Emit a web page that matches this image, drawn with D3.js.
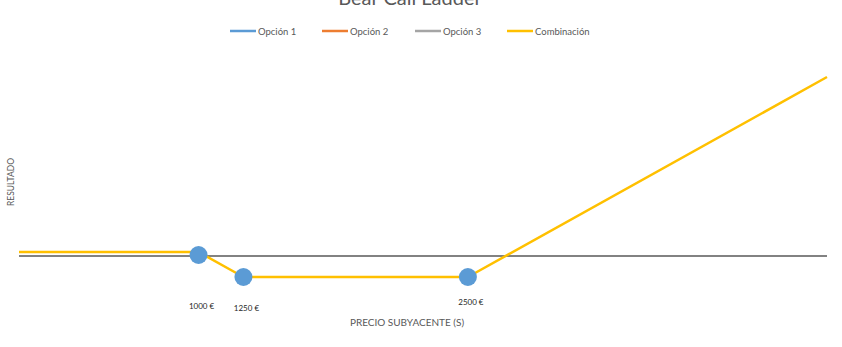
<!DOCTYPE html>
<html lang="es">
<head>
  <meta charset="UTF-8">
  <title>Bear Call Ladder</title>
  <script src="https://cdn.jsdelivr.net/npm/d3@7"></script>
  <style>
    body { margin: 0; background: #fff; }
    * { font-family: 'Lato', 'Open Sans', sans-serif; }
    .legend text { font-size: 9.5px; fill: #595959; }
  </style>
</head>
<body>
  <div id="plot"></div>
  <script>
    // Data
    const seriesNames = ['Opción 1', 'Opción 2', 'Opción 3', 'Combinación'];
    const seriesColors = ['#5B9BD5', '#ED7D31', '#A5A5A5', '#FFC000'];
    const prices = [0, 1000, 1250, 2500, 4500];
    const combination = [40, 40, -210, -210, 1790];
    const strikes = [1000, 1250, 2500];
    const strikeLevels = [10, -210, -210];
    const strikeLabels = ['1000 €', '1250 €', '2500 €'];
    const labelLevels = [-530, -550, -490];

    const W = 842, H = 347;
    const svg = d3.select('#plot').append('svg')
      .attr('width', W).attr('height', H);

    const x = d3.scaleLinear().domain([0, 4500]).range([19, 827]);
    const y = d3.scaleLinear().domain([-300, 2000]).range([286, 56]);

    // title (partly cut off at the top, like the original)
    svg.append('text')
      .attr('x', 410).attr('y', 5)
      .attr('text-anchor', 'middle')
      .style('font-size', '20px')
      .style('fill', '#595959')
      .text('Bear Call Ladder');

    // legend
    const legendX = [230, 322, 415, 507];
    const legend = svg.append('g').attr('class', 'legend');
    const items = legend.selectAll('g').data(seriesNames).enter().append('g')
      .attr('transform', (d, i) => `translate(${legendX[i]}, 31)`);
    items.append('line')
      .attr('x1', 0).attr('x2', 26).attr('y1', 0).attr('y2', 0)
      .attr('stroke', (d, i) => seriesColors[i])
      .attr('stroke-width', 2.5);
    items.append('text')
      .attr('x', 28).attr('y', 3.5)
      .text(d => d);

    // horizontal axis line
    svg.append('line')
      .attr('x1', x(0)).attr('x2', x(4500))
      .attr('y1', y(0)).attr('y2', y(0))
      .attr('stroke', '#595959').attr('stroke-width', 1.3);

    // combination line
    const line = d3.line()
      .x((d, i) => x(prices[i]))
      .y(d => y(d));
    svg.append('path')
      .datum(combination)
      .attr('d', line)
      .attr('fill', 'none')
      .attr('stroke', '#FFC000')
      .attr('stroke-width', 2.5)
      .attr('stroke-linejoin', 'round');

    // strike markers
    svg.selectAll('.strike')
      .data(strikes).enter().append('circle')
      .attr('class', 'strike')
      .attr('cx', d => x(d))
      .attr('cy', (d, i) => y(strikeLevels[i]))
      .attr('r', 9)
      .attr('fill', '#5B9BD5');

    svg.selectAll('.strike-label')
      .data(strikes).enter().append('text')
      .attr('class', 'strike-label')
      .attr('x', d => x(d) + 3)
      .attr('y', (d, i) => y(labelLevels[i]))
      .attr('text-anchor', 'middle')
      .style('font-size', '8px')
      .style('fill', '#262626')
      .text((d, i) => strikeLabels[i]);

    // axis titles
    svg.append('text')
      .attr('x', 407).attr('y', 326)
      .attr('text-anchor', 'middle')
      .style('font-size', '10px')
      .style('fill', '#595959')
      .text('PRECIO SUBYACENTE (S)');

    svg.append('text')
      .attr('transform', 'translate(14, 182) rotate(-90)')
      .attr('text-anchor', 'middle')
      .style('font-size', '8.5px')
      .style('fill', '#595959')
      .text('RESULTADO');
  </script>
</body>
</html>
